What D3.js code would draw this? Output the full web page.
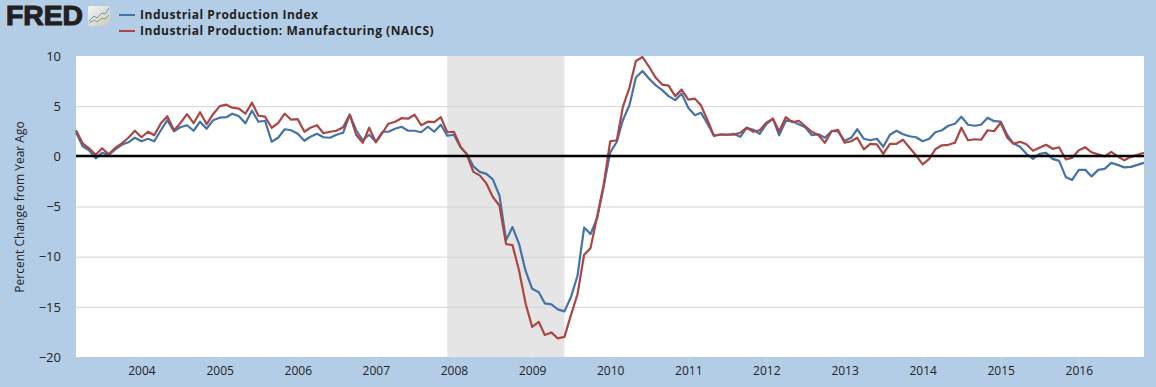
<!DOCTYPE html>
<html>
<head>
<meta charset="utf-8">
<script src="https://cdn.jsdelivr.net/npm/d3@7"></script>
<style>
  html, body { margin: 0; padding: 0; background: #b3cde6; overflow: hidden; }
  text { font-family: "Open Sans", sans-serif; fill: #222; }
</style>
</head>
<body>
<div id="chart"></div>
<script>
// monthly, Mar 2003 - Nov 2016
const firstMonth = new Date(Date.UTC(2003, 2, 1));
const lastMonth = new Date(Date.UTC(2016, 10, 1));
const months = d3.utcMonth.range(firstMonth, d3.utcMonth.offset(lastMonth, 1));

const indpro = [
  2.4, 1.0, 0.6, -0.2, 0.35, 0.15, 0.7, 1.15, 1.4, 1.85, 1.5, 1.75, 1.5, 2.6, 3.6,
  2.5, 2.9, 3.1, 2.55, 3.45, 2.75, 3.6, 3.85, 3.9, 4.25, 4.0, 3.3, 4.55, 3.45, 3.55,
  1.45, 1.85, 2.7, 2.6, 2.25, 1.55, 1.95, 2.25, 1.9, 1.85, 2.15, 2.35, 4.15, 2.6, 1.6,
  2.15, 1.45, 2.45, 2.45, 2.75, 2.95, 2.55, 2.55, 2.4, 2.95, 2.45, 3.15, 2.05, 2.15, 0.9,
  0.25, -1.0, -1.55, -1.75, -2.3, -3.9, -8.35, -7.05, -8.75, -11.4, -13.2, -13.55, -14.65, -14.75, -15.25,
  -15.45, -14.05, -11.9, -7.1, -7.75, -6.15, -3.05, 0.4, 1.45, 3.6, 5.1, 7.85, 8.5, 7.75, 7.1,
  6.6, 6.0, 5.6, 6.25, 4.85, 4.1, 4.35, 3.25, 2.05, 2.15, 2.15, 2.25, 1.95, 2.85, 2.65,
  2.25, 3.2, 3.75, 2.1, 3.55, 3.5, 3.2, 2.9, 2.1, 2.2, 1.85, 2.5, 2.5, 1.55, 1.85,
  2.7, 1.75, 1.6, 1.75, 0.95, 2.15, 2.55, 2.2, 2.0, 1.9, 1.5, 1.75, 2.4, 2.6, 3.05,
  3.25, 3.95, 3.15, 3.05, 3.15, 3.85, 3.5, 3.45, 2.1, 1.3, 0.95, 0.25, -0.25, 0.25, 0.35,
  -0.25, -0.45, -2.05, -2.35, -1.35, -1.35, -2.0, -1.35, -1.25, -0.65, -0.85, -1.1, -1.05, -0.85, -0.65
];

const manufacturing = [
  2.6, 1.3, 0.8, 0.15, 0.8, 0.2, 0.85, 1.3, 1.85, 2.55, 1.9, 2.45, 2.1, 3.3, 4.0,
  2.6, 3.3, 4.2, 3.3, 4.4, 3.2, 4.2, 5.0, 5.15, 4.85, 4.75, 4.25, 5.35, 4.05, 3.95,
  2.85, 3.3, 4.25, 3.65, 3.7, 2.45, 2.85, 3.1, 2.3, 2.45, 2.55, 2.9, 4.15, 2.15, 1.35,
  2.85, 1.4, 2.35, 3.25, 3.45, 3.8, 3.75, 4.15, 3.1, 3.45, 3.4, 3.9, 2.4, 2.45, 0.95,
  0.2, -1.55, -1.9, -2.7, -4.05, -4.9, -8.75, -8.85, -11.4, -14.65, -17.0, -16.5, -17.8, -17.55, -18.15,
  -18.0, -15.85, -13.75, -9.8, -9.15, -6.0, -2.9, 1.5, 1.6, 4.9, 6.85, 9.5, 9.9, 8.95, 7.85,
  7.15, 7.05, 6.0, 6.65, 5.65, 5.75, 5.1, 3.6, 2.05, 2.2, 2.15, 2.15, 2.35, 2.85, 2.45,
  2.6, 3.35, 3.75, 2.5, 3.9, 3.4, 3.55, 3.0, 2.45, 2.1, 1.35, 2.5, 2.65, 1.35, 1.5,
  1.85, 0.7, 1.25, 1.2, 0.25, 1.25, 1.25, 1.65, 0.85, 0.1, -0.8, -0.25, 0.7, 1.1, 1.15,
  1.35, 2.85, 1.6, 1.7, 1.65, 2.6, 2.5, 3.35, 1.85, 1.25, 1.45, 1.2, 0.55, 0.85, 1.15,
  0.75, 0.9, -0.3, -0.15, 0.6, 0.9, 0.4, 0.2, 0, 0.45, 0, -0.4, -0.05, 0.15, 0.35
];

const seriesNames = ["Industrial Production Index", "Industrial Production: Manufacturing (NAICS)"];
const seriesColors = ["#4572a7", "#aa4643"];
const yTicks = [-20, -15, -10, -5, 0, 5, 10];
const yearTicks = d3.range(2004, 2017);
const recession = [new Date(Date.UTC(2007, 11, 1)), new Date(Date.UTC(2009, 5, 1))];

const svgWidth = 1156, svgHeight = 387;
const margin = { top: 56, right: 12, bottom: 30, left: 76 };

const svg = d3.select("#chart")
  .append("svg")
  .attr("width", svgWidth)
  .attr("height", svgHeight)
  .style("display", "block");

// scales
const xScale = d3.scaleUtc()
  .domain([firstMonth, lastMonth])
  .range([margin.left, svgWidth - margin.right]);

const yScale = d3.scaleLinear()
  .domain([-20, 10])
  .range([svgHeight - margin.bottom, margin.top]);

// plot background
svg.append("rect")
  .attr("x", margin.left)
  .attr("y", margin.top)
  .attr("width", svgWidth - margin.left - margin.right)
  .attr("height", svgHeight - margin.top - margin.bottom)
  .attr("fill", "#fff");

// recession band
svg.append("rect")
  .attr("x", xScale(recession[0]))
  .attr("y", margin.top)
  .attr("width", xScale(recession[1]) - xScale(recession[0]))
  .attr("height", svgHeight - margin.top - margin.bottom)
  .attr("fill", "#e5e5e5");

// y axis with gridlines
const yAxis = svg.append("g")
  .attr("transform", `translate(${margin.left},0)`)
  .call(d3.axisLeft(yScale)
    .tickValues(yTicks)
    .tickSize(-(svgWidth - margin.left - margin.right))
    .tickPadding(15));
yAxis.select(".domain").remove();
yAxis.selectAll("line").attr("stroke", "#d4d4d4");
yAxis.selectAll("line").filter(d => d === 10 || d === -20).remove();
yAxis.selectAll("text").style("font-size", "13px").style("fill", "#222");

// x axis
const xAxis = svg.append("g")
  .attr("transform", `translate(0,${svgHeight - margin.bottom})`)
  .call(d3.axisBottom(xScale)
    .tickValues(yearTicks.map(y => new Date(Date.UTC(y, 0, 1))))
    .tickFormat(d3.utcFormat("%Y"))
    .tickSize(10)
    .tickPadding(-1));
xAxis.select(".domain").remove();
xAxis.selectAll("line").attr("stroke", "#c0d5ea");
xAxis.selectAll("text").style("font-size", "12px").style("fill", "#222");

svg.append("text")
  .attr("transform", "translate(24,207) rotate(-90)")
  .attr("text-anchor", "middle")
  .style("font-size", "12px")
  .text("Percent Change from Year Ago");

// lines
const line = d3.line()
  .x((d, i) => xScale(months[i]))
  .y(d => yScale(d));

svg.selectAll(".series")
  .data([indpro, manufacturing])
  .join("path")
  .attr("class", "series")
  .attr("d", line)
  .attr("fill", "none")
  .attr("stroke", (d, i) => seriesColors[i])
  .attr("stroke-width", 2.2)
  .attr("stroke-linejoin", "round");

// zero line
svg.append("line")
  .attr("x1", margin.left)
  .attr("x2", svgWidth - margin.right)
  .attr("y1", Math.round(yScale(0)))
  .attr("y2", Math.round(yScale(0)))
  .attr("stroke", "#000")
  .attr("stroke-width", 2.4);

// legend
const legend = svg.selectAll(".legend")
  .data(seriesNames)
  .join("g")
  .attr("class", "legend")
  .attr("transform", (d, i) => `translate(119,${15 + i * 16})`);

legend.append("line")
  .attr("x2", 16)
  .attr("stroke", (d, i) => seriesColors[i])
  .attr("stroke-width", 2);

legend.append("text")
  .attr("x", 21)
  .attr("y", 4)
  .style("font-size", "12px")
  .style("font-weight", "700")
  .style("letter-spacing", "0.52px")
  .text(d => d);

// FRED logo
svg.append("text")
  .attr("x", 6)
  .attr("y", 25)
  .attr("textLength", 77)
  .attr("lengthAdjust", "spacingAndGlyphs")
  .style("font-family", "'Liberation Sans', sans-serif")
  .style("font-weight", "bold")
  .style("font-size", "27px")
  .style("fill", "#231f20")
  .style("stroke", "#231f20")
  .style("stroke-width", 1.1)
  .text("FRED");

const grad = svg.append("defs").append("linearGradient")
  .attr("id", "logoBg")
  .attr("x1", 0).attr("y1", 0).attr("x2", 1).attr("y2", 1);
grad.append("stop").attr("offset", "0").attr("stop-color", "#f4f6f4");
grad.append("stop").attr("offset", "1").attr("stop-color", "#c6c8c6");

const logo = svg.append("g").attr("transform", "translate(88,6)");
logo.append("rect").attr("width", 22).attr("height", 20).attr("rx", 2).attr("fill", "url(#logoBg)");
logo.append("path").attr("d", "M1,15 L6,10 L9,12 L14,7 L17,8 L21,2")
  .attr("fill", "none").attr("stroke", "#6f94b4").attr("stroke-width", 1);
logo.append("path").attr("d", "M1,17 L6,14 L9,16 L14,12 L17,13 L21,9")
  .attr("fill", "none").attr("stroke", "#82a84a").attr("stroke-width", 1);
</script>
</body>
</html>
